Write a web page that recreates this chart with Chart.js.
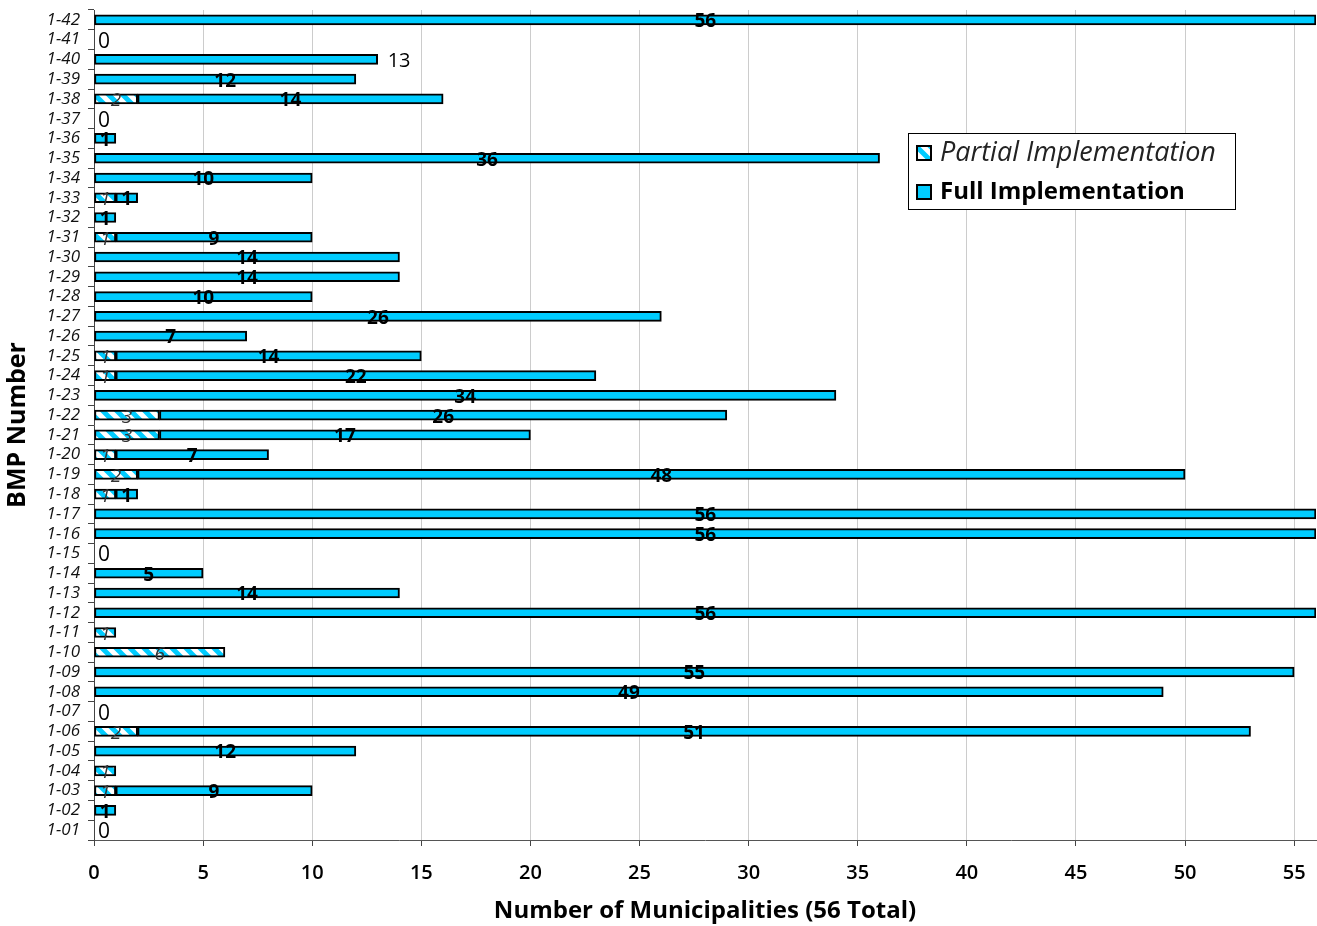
<html>
  <head>
    <title>BMP Implementation by Municipality</title>
    <style>
      body {
        margin: 0;
        background: white;
      }
      #bmpChart {
        display: block;
      }
    </style>
  </head>
  <body>
    <canvas id="bmpChart" width="1317" height="926"></canvas>
    <script src="https://cdn.jsdelivr.net/npm/chart.js@4/dist/chart.umd.min.js"></script>
    <script>
      // BMP numbers, bottom (1-01) to top (1-42)
      const bmpNumbers = [
        '1-01', '1-02', '1-03', '1-04', '1-05', '1-06', '1-07', '1-08', '1-09', '1-10',
        '1-11', '1-12', '1-13', '1-14', '1-15', '1-16', '1-17', '1-18', '1-19', '1-20',
        '1-21', '1-22', '1-23', '1-24', '1-25', '1-26', '1-27', '1-28', '1-29', '1-30',
        '1-31', '1-32', '1-33', '1-34', '1-35', '1-36', '1-37', '1-38', '1-39', '1-40',
        '1-41', '1-42'
      ];
      const partialImpl = [
        0, 0, 1, 1, 0, 2, 0, 0, 0, 6,
        1, 0, 0, 0, 0, 0, 0, 1, 2, 1,
        3, 3, 0, 1, 1, 0, 0, 0, 0, 0,
        1, 0, 1, 0, 0, 0, 0, 2, 0, 0,
        0, 0
      ];
      const fullImpl = [
        0, 1, 9, 0, 12, 51, 0, 49, 55, 0,
        0, 56, 14, 5, 0, 56, 56, 1, 48, 7,
        17, 26, 34, 22, 14, 7, 26, 10, 14, 14,
        9, 1, 1, 10, 36, 1, 0, 14, 12, 13,
        0, 56
      ];
      const xTicks = [0, 5, 10, 15, 20, 25, 30, 35, 40, 45, 50, 55];
      const totalMunicipalities = 56;
      // label for this BMP sits just past the end of its bar
      const labelsOutside = ['1-40'];

      const CYAN = '#00CCFF';
      const FONT = "'Open Sans', 'DejaVu Sans', sans-serif";

      function makeHatch() {
        const size = 14;
        const c = document.createElement('canvas');
        c.width = size;
        c.height = size;
        const g = c.getContext('2d');
        g.fillStyle = '#fff';
        g.fillRect(0, 0, size, size);
        g.strokeStyle = CYAN;
        g.lineWidth = 5;
        g.beginPath();
        for (let k = -1; k <= 1; k++) {
          g.moveTo(k * size - 2, -2);
          g.lineTo(k * size + size + 2, size + 2);
        }
        g.stroke();
        return g.createPattern(c, 'repeat');
      }

      const canvas = document.getElementById('bmpChart');
      const hatch = makeHatch();

      // value labels centred on each segment, "0" for empty rows
      const barLabels = {
        id: 'barLabels',
        afterDatasetsDraw(chart) {
          const ctx = chart.ctx;
          const partMeta = chart.getDatasetMeta(0);
          const fullMeta = chart.getDatasetMeta(1);
          const x0 = chart.scales.x.getPixelForValue(0);
          ctx.save();
          ctx.textBaseline = 'middle';
          bmpNumbers.forEach((name, i) => {
            const p = partialImpl[i];
            const f = fullImpl[i];
            const y = chart.scales.y.getPixelForValue(i) + 2;
            if (p === 0 && f === 0) {
              ctx.font = '21px ' + FONT;
              ctx.fillStyle = '#000';
              ctx.textAlign = 'left';
              ctx.fillText('0', x0 + 4, y);
              return;
            }
            if (p > 0) {
              const el = partMeta.data[i];
              ctx.font = 'italic 19px ' + FONT;
              ctx.fillStyle = '#333';
              ctx.textAlign = 'center';
              ctx.fillText(String(p), (el.x + el.base) / 2, y);
            }
            if (f > 0) {
              const el = fullMeta.data[i];
              if (labelsOutside.includes(name)) {
                ctx.font = '20px ' + FONT;
                ctx.textAlign = 'left';
                ctx.fillStyle = '#000';
                ctx.fillText(String(f), el.x + 10, y);
              } else {
                ctx.font = 'bold 19px ' + FONT;
                ctx.textAlign = 'center';
                ctx.fillStyle = '#000';
                ctx.fillText(String(f), (el.x + el.base) / 2, y);
              }
            }
          });
          ctx.restore();
        }
      };

      // boxed legend with italic / bold entries
      const boxLegend = {
        id: 'boxLegend',
        afterDraw(chart) {
          const ctx = chart.ctx;
          ctx.save();
          ctx.fillStyle = '#fff';
          ctx.fillRect(908.5, 133.5, 327, 76);
          ctx.strokeStyle = '#000';
          ctx.lineWidth = 1;
          ctx.strokeRect(908.5, 133.5, 327, 76);

          ctx.fillStyle = hatch;
          ctx.fillRect(917, 146, 14, 14);
          ctx.lineWidth = 2;
          ctx.strokeRect(917, 146, 14, 14);
          ctx.fillStyle = CYAN;
          ctx.fillRect(917, 185, 14, 14);
          ctx.strokeRect(917, 185, 14, 14);

          ctx.textBaseline = 'middle';
          ctx.textAlign = 'left';
          ctx.fillStyle = '#222';
          ctx.font = 'italic 27px ' + FONT;
          ctx.fillText('Partial Implementation', 940, 153);
          ctx.fillStyle = '#000';
          ctx.font = 'bold 24px ' + FONT;
          ctx.fillText('Full Implementation', 940, 192);
          ctx.restore();
        }
      };

      new Chart(canvas, {
        type: 'bar',
        data: {
          labels: bmpNumbers,
          datasets: [
            {
              label: 'Partial Implementation',
              data: partialImpl.map(v => v || null),
              backgroundColor: hatch,
              borderColor: '#000',
              borderWidth: 2,
              borderSkipped: false,
              barThickness: 10
            },
            {
              label: 'Full Implementation',
              data: fullImpl.map(v => v || null),
              backgroundColor: CYAN,
              borderColor: '#000',
              borderWidth: 2,
              borderSkipped: false,
              barThickness: 10
            }
          ]
        },
        options: {
          indexAxis: 'y',
          responsive: false,
          animation: false,
          layout: { padding: { top: 10, right: 1, left: 0, bottom: 0 } },
          scales: {
            x: {
              stacked: true,
              min: 0,
              max: totalMunicipalities,
              afterFit: s => {
                s.height = 86;
                s.paddingLeft = 0;
                s.paddingRight = 0;
              },
              afterBuildTicks: s => { s.ticks = xTicks.map(v => ({ value: v })); },
              grid: { color: '#cccccc', tickColor: '#444', tickLength: 6 },
              border: { color: '#555', width: 1 },
              ticks: {
                includeBounds: false,
                padding: 15,
                color: '#000',
                font: { family: FONT, size: 20, weight: '600' }
              },
              title: {
                display: true,
                text: 'Number of Municipalities (56 Total)',
                color: '#000',
                padding: { top: 0, bottom: 0 },
                font: { family: FONT, size: 24, weight: 'bold' }
              }
            },
            y: {
              stacked: true,
              reverse: true,
              afterFit: s => {
                s.width = 94;
                s.paddingTop = 0;
                s.paddingBottom = 0;
              },
              grid: { drawOnChartArea: false, color: '#444', tickLength: 6, offset: true },
              border: { color: '#444', width: 1 },
              ticks: {
                padding: 8,
                color: '#111',
                autoSkip: false,
                font: { family: FONT, size: 17, style: 'italic' }
              },
              title: {
                display: true,
                text: 'BMP Number',
                color: '#000',
                padding: { top: 3, bottom: 0 },
                font: { family: FONT, size: 25, weight: 'bold' }
              }
            }
          },
          plugins: {
            legend: { display: false },
            tooltip: { enabled: false }
          }
        },
        plugins: [barLabels, boxLegend]
      });
    </script>
  </body>
</html>
